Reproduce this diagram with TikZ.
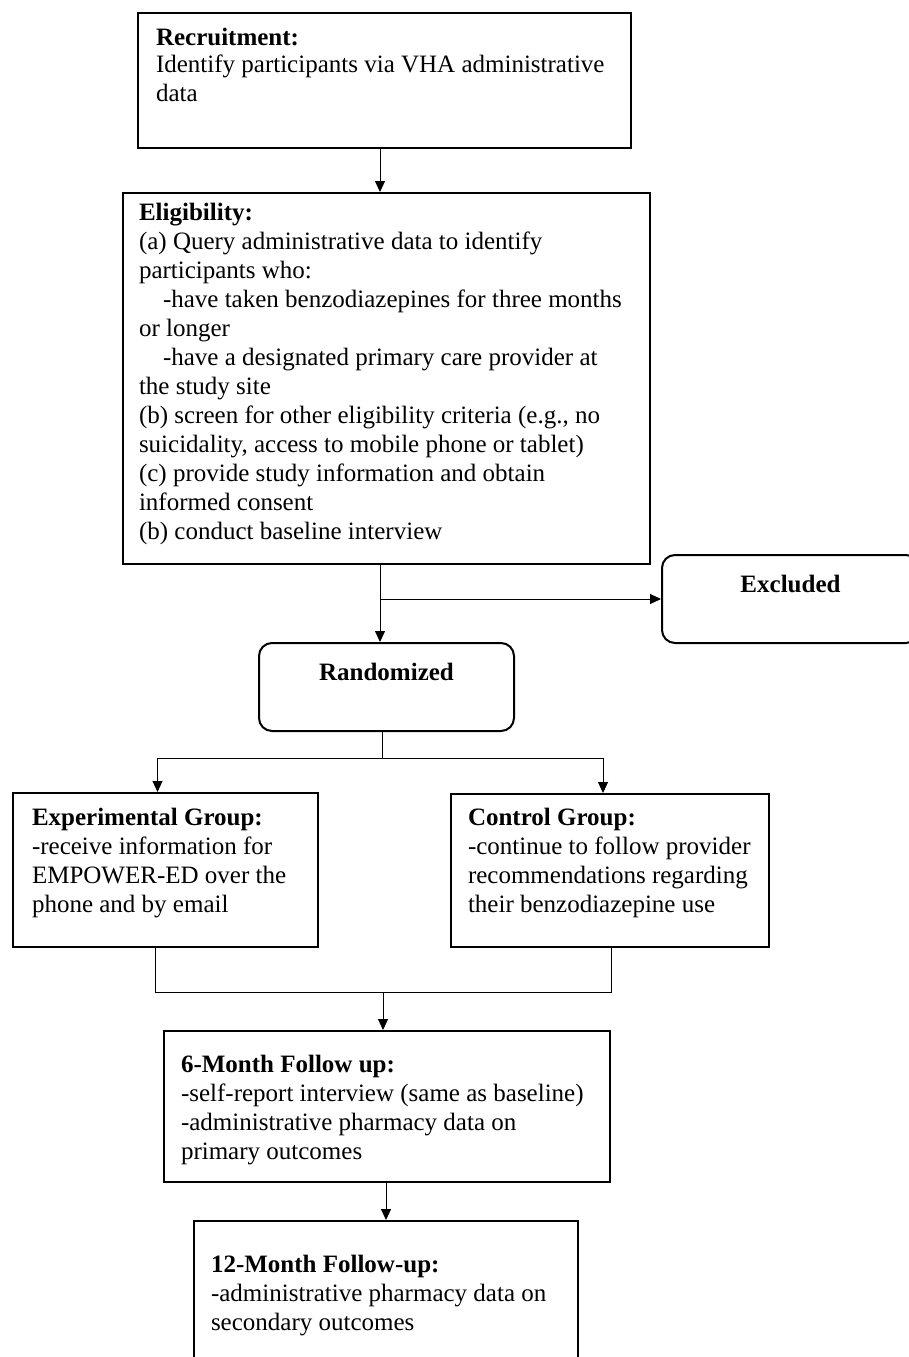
\documentclass[tikz,border=0pt]{standalone}
\usepackage{fontspec}
\setmainfont{Liberation Serif}
\usetikzlibrary{arrows.meta}

\tikzset{
  box/.style={draw, line width=2pt, anchor=north west, inner sep=0pt,
    font=\fontsize{25}{29}\selectfont},
  roundbox/.style={box, rounded corners=13pt},
  conn/.style={line width=1pt},
  arr/.style={conn, -{Triangle[width=10pt,length=11pt]}},
}

\begin{document}
\begin{tikzpicture}[x=1pt,y=-1pt]
  \useasboundingbox (0,0) rectangle (908,1357);

  % Boxes
  \node[box, inner xsep=18pt, inner ysep=12.4pt] (recruit) at (137,12)
    {\parbox[t][110.2pt][t]{457pt}{\fontsize{25}{28}\selectfont
      \strut\textbf{Recruitment:}\\
      Identify participants via VHA administrative\\ data}};
  \node[box, inner xsep=16pt, inner ysep=6.7pt] (elig) at (122,192)
    {\parbox[t][357.6pt][t]{495pt}{\strut\textbf{Eligibility:}\\
      (a) Query administrative data to identify\\
      participants who:\\
      \hspace*{24pt}-have taken benzodiazepines for three months\\
      or longer\\
      \hspace*{24pt}-have a designated primary care provider at\\
      the study site\\
      (b) screen for other eligibility criteria (e.g., no\\
      suicidality, access to mobile phone or tablet)\\
      (c) provide study information and obtain\\
      informed consent\\
      (b) conduct baseline interview}};
  \node[roundbox, inner ysep=17.2pt] (excl) at (661,554)
    {\parbox[t][53.6pt][t]{257pt}{\centering\strut\textbf{Excluded}}};
  \node[roundbox, inner ysep=17pt] (rand) at (258,642)
    {\parbox[t][54pt][t]{255pt}{\centering\strut\textbf{Randomized}}};
  \node[box, inner xsep=19pt, inner ysep=11.7pt] (exp) at (12,792)
    {\parbox[t][130.6pt][t]{267pt}{\strut\textbf{Experimental Group:}\\
      -receive information for\\ EMPOWER-ED over the\\ phone and by email}};
  \node[box, inner xsep=17pt, inner ysep=10.7pt] (ctrl) at (450,793)
    {\parbox[t][131.6pt][t]{284pt}{\strut\textbf{Control Group:}\\
      -continue to follow provider\\ recommendations regarding\\
      their benzodiazepine use}};
  \node[box, inner xsep=17pt, inner ysep=21.4pt] (six) at (163,1030)
    {\parbox[t][108.2pt][t]{412pt}{\strut\textbf{6-Month Follow up:}\\
      -self-report interview (same as baseline)\\
      -administrative pharmacy data on\\ primary outcomes}};
  \node[box, inner xsep=17pt, inner ysep=31.4pt] (twelve) at (193,1220)
    {\parbox[t][107pt][t]{350pt}{\strut\textbf{12-Month Follow-up:}\\
      -administrative pharmacy data on\\ secondary outcomes}};

  % Connectors
  \draw[arr] ([xshift=-4.5pt]recruit.south) -- ([xshift=-4.5pt]recruit.south |- elig.north);
  \coordinate (eligout) at ([xshift=-6.5pt]elig.south);
  \draw[arr] (eligout) -- (eligout |- rand.north);
  \draw[arr] (eligout |- excl.west) -- (excl.west);

  \coordinate (randout) at ([xshift=-4pt]rand.south);
  \coordinate (fork) at (randout |- 0,758);
  \draw[conn] (randout) -- (fork);
  \draw[arr] (fork) -| ([xshift=-8pt]exp.north);
  \draw[arr] (fork) -| ([xshift=-7pt]ctrl.north);

  \coordinate (join) at (383,992);
  \draw[conn] ([xshift=-10pt]exp.south) |- (join) -| ([xshift=1.5pt]ctrl.south);
  \draw[arr] (join) -- (join |- six.north);
  \draw[arr] (six.south -| twelve.north) -- (twelve.north);

\end{tikzpicture}
\end{document}
